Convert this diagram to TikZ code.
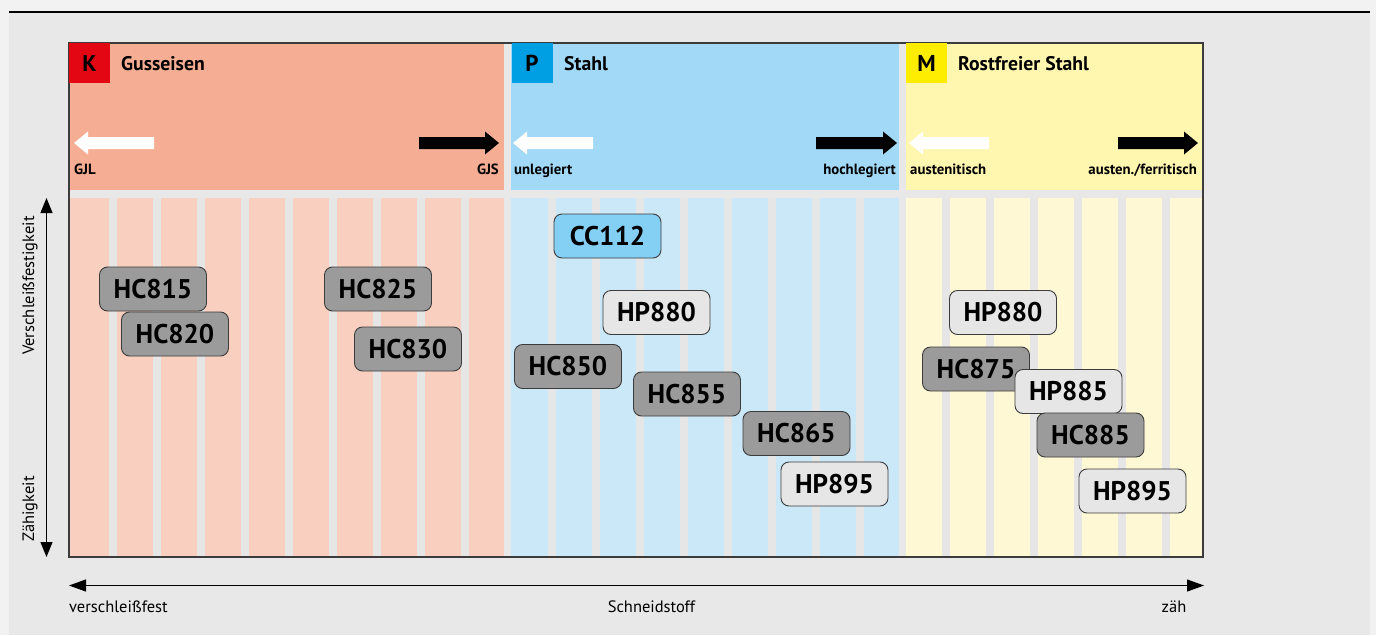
\documentclass[tikz,border=0pt]{standalone}
\usepackage{fontspec}
\setmainfont{PT Sans}
\usetikzlibrary{arrows.meta}
\definecolor{outerbg}{HTML}{F2F2F2}
\definecolor{panel}{HTML}{E8E8E8}
\definecolor{gapgray}{HTML}{E6E6E6}
\definecolor{kHead}{HTML}{F5AE93}
\definecolor{kStripe}{HTML}{F9D0BF}
\definecolor{kBadge}{HTML}{E30613}
\definecolor{pHead}{HTML}{A1D9F6}
\definecolor{pStripe}{HTML}{CBE8F8}
\definecolor{pBadge}{HTML}{009FE3}
\definecolor{mHead}{HTML}{FFF6B0}
\definecolor{mStripe}{HTML}{FFF8D4}
\definecolor{mBadge}{HTML}{FFED00}
\definecolor{darkTool}{HTML}{9B9B9B}
\definecolor{lightTool}{HTML}{E6E6E6}
\definecolor{blueTool}{HTML}{84D0F5}
\definecolor{frameline}{HTML}{3C3C3C}
\newcommand\myleftarrow[4]{% tip x, tail x, center y, colour
  \fill[#4] (#2,#3-6) -- (#1+14,#3-6) -- (#1+14,#3-11.5) -- (#1,#3) -- (#1+14,#3+11.5) -- (#1+14,#3+6) -- (#2,#3+6) -- cycle;}
\newcommand\myrightarrow[4]{% tail x, tip x, center y, colour
  \fill[#4] (#1,#3-6) -- (#2-14,#3-6) -- (#2-14,#3-11.5) -- (#2,#3) -- (#2-14,#3+11.5) -- (#2-14,#3+6) -- (#1,#3+6) -- cycle;}
\begin{document}
\begin{tikzpicture}[x=1pt,y=-1pt,
  badge/.style={minimum width=41pt,minimum height=40pt,inner sep=0pt,
    font=\fontsize{23}{23}\selectfont\bfseries},
  htitle/.style={anchor=west,inner sep=0pt,font=\fontsize{19.7}{19.7}\selectfont\bfseries},
  sublabel/.style={inner sep=0pt,font=\fontsize{14.8}{14.8}\selectfont\bfseries},
  axislabel/.style={inner sep=0pt,font=\fontsize{16.5}{16.5}\selectfont},
  tool/.style={draw=frameline,line width=0.9pt,rounded corners=8pt,
    minimum width=107pt,minimum height=44pt,inner sep=0pt,
    font=\fontsize{27}{27}\selectfont\bfseries},
  dark/.style={tool,fill=darkTool},
  light/.style={tool,fill=lightTool},
  blue/.style={tool,fill=blueTool},
  axisline/.style={line width=1.1pt},
]
\fill[outerbg] (0,0) rectangle (1376,635);
\useasboundingbox (0,0) rectangle (1376,635);
\fill[panel] (9,13) rectangle (1370,635);
\draw[line width=2.2pt] (9,12) -- (1370,12);

% header areas
\fill[kHead] (69,43) rectangle (504,190);
\fill[pHead] (511,43) rectangle (899,190);
\fill[mHead] (906,43) rectangle (1203,190);

% stripe areas
\fill[kStripe] (69,198) rectangle (504,557);
\fill[pStripe] (511,198) rectangle (899,557);
\fill[mStripe] (906,198) rectangle (1203,557);
\foreach \i in {0,...,8} \fill[gapgray] ({109+44*\i},198) rectangle ({117+44*\i},557);
\foreach \i in {0,...,7} \fill[gapgray] ({548+44*\i},198) rectangle ({556+44*\i},557);
\foreach \i in {0,...,5} \fill[gapgray] ({942+44*\i},198) rectangle ({950+44*\i},557);

% frame
\draw[frameline,line width=1.2pt] (69,43) rectangle (1203,557);

% badges and titles
\node[badge,fill=kBadge] (kbadge) at (89.5,63) {K};
\node[htitle] (ktitle) at (121,64) {Gusseisen};
\node[badge,fill=pBadge] (pbadge) at (532,63) {P};
\node[htitle] (ptitle) at (564,64) {Stahl};
\node[badge,fill=mBadge] (mbadge) at (926.5,63) {M};
\node[htitle] (mtitle) at (958,64) {Rostfreier Stahl};

% header arrows
\myleftarrow{74}{154}{143}{white}
\myrightarrow{419}{499}{143}{black}
\myleftarrow{513}{593}{143}{white}
\myrightarrow{816}{897}{143}{black}
\myleftarrow{909}{989}{143}{white}
\myrightarrow{1118}{1198}{143}{black}

\node[sublabel,anchor=base west] (gjl) at (74,174) {GJL};
\node[sublabel,anchor=base east] (gjs) at (499,174) {GJS};
\node[sublabel,anchor=base west] (unleg) at (514,174) {unlegiert};
\node[sublabel,anchor=base east] (hochleg) at (896,174) {hochlegiert};
\node[sublabel,anchor=base west] (austen) at (910,174) {austenitisch};
\node[sublabel,anchor=base east] (austfer) at (1197,174) {austen./ferritisch};

% vertical axis
\coordinate (vtop) at (46.5,198);
\coordinate (vbot) at (46.5,557);
\draw[axisline,{Triangle[length=15pt,width=12pt]}-{Triangle[length=15pt,width=12pt]}] (vbot) -- (vtop);
\node[axislabel,rotate=90,anchor=west] (vf) at (30,355) {Verschleißfestigkeit};
\node[axislabel,rotate=90,anchor=west] (zk) at (30,542) {Zähigkeit};

% horizontal axis
\coordinate (hleft) at (69,585.5);
\coordinate (hright) at (1204,585.5);
\draw[axisline,{Triangle[length=17pt,width=12pt]}-{Triangle[length=17pt,width=12pt]}] (hleft) -- (hright);
\node[axislabel,anchor=base west] (vfest) at (69,612) {verschleißfest};
\node[axislabel,anchor=base] (schneid) at (651.5,612) {Schneidstoff};
\node[axislabel,anchor=base] (zaeh) at (1174,612) {zäh};

% tool grades
\node[dark] (hc815) at (153,289) {HC815};
\node[dark] (hc820) at (175,334) {HC820};
\node[dark] (hc825) at (378,289) {HC825};
\node[dark] (hc830) at (408,349) {HC830};

\node[blue] (cc112) at (607.5,236) {CC112};
\node[light] (hp880p) at (656.5,312.5) {HP880};
\node[dark] (hc850) at (568,366.5) {HC850};
\node[dark] (hc855) at (687,394) {HC855};
\node[dark] (hc865) at (796.5,433.5) {HC865};
\node[light] (hp895p) at (834.5,484) {HP895};

\node[light] (hp880m) at (1003,312.5) {HP880};
\node[dark] (hc875) at (976,369) {HC875};
\node[light] (hp885) at (1068.5,391.5) {HP885};
\node[dark] (hc885) at (1090.5,435) {HC885};
\node[light] (hp895m) at (1132.5,491) {HP895};
\end{tikzpicture}
\end{document}
